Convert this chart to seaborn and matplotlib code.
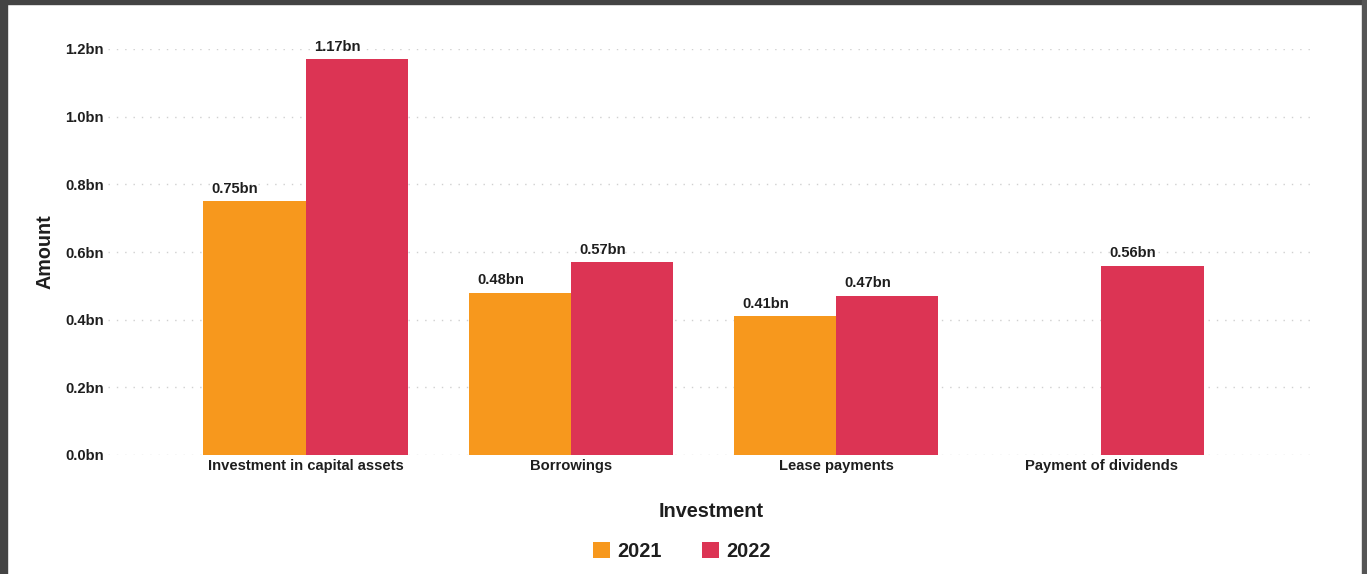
import matplotlib
matplotlib.use("Agg")
import matplotlib.pyplot as plt
from matplotlib.patches import Rectangle
import seaborn as sns
import pandas as pd

categories = ["Investment in capital assets", "Borrowings", "Lease payments", "Payment of dividends"]
years = ["2021", "2022"]
values_2021 = [0.75, 0.48, 0.41, None]
values_2022 = [1.17, 0.57, 0.47, 0.56]
y_ticks = [0.0, 0.2, 0.4, 0.6, 0.8, 1.0, 1.2]
colors = {"2021": "#F7981D", "2022": "#DC3454"}

rows = []
for cat, v in zip(categories, values_2021):
    if v is not None:
        rows.append({"Investment": cat, "Year": "2021", "Amount": v})
for cat, v in zip(categories, values_2022):
    if v is not None:
        rows.append({"Investment": cat, "Year": "2022", "Amount": v})
df = pd.DataFrame(rows)

sns.set_theme(style="white")
plt.rcParams["font.family"] = ["Liberation Sans", "DejaVu Sans"]

W, H = 1367, 574
fig = plt.figure(figsize=(W / 100, H / 100), dpi=100)
ax = fig.add_axes([108 / W, (H - 455) / H, (1315 - 108) / W, (455 - 49) / H])

sns.barplot(data=df, x="Investment", y="Amount", hue="Year", order=categories,
            hue_order=years, palette=colors, width=0.77, saturation=1,
            errorbar=None, linewidth=0, ax=ax, legend=True)

ax.set_xlim(-0.745, 3.805)
ax.set_ylim(0, 1.2)
ax.set_yticks(y_ticks)
ax.set_yticklabels([f"{t:.1f}bn" for t in y_ticks], fontsize=10.6, fontweight="bold", color="#1e1e1e")
ax.tick_params(axis="x", labelsize=10.6, colors="#1e1e1e", length=0, pad=3)
ax.tick_params(axis="y", length=0, pad=3)
for lbl in ax.get_xticklabels():
    lbl.set_fontweight("bold")

ax.yaxis.grid(True, linestyle=(0, (1, 5)), color="#d0d0d0", linewidth=1)
ax.set_axisbelow(True)
for s in ax.spines.values():
    s.set_visible(False)

ax.set_xlabel("Investment", fontsize=14.3, fontweight="bold", color="#1e1e1e", labelpad=21)
ax.set_ylabel("Amount", fontsize=14.2, fontweight="bold", color="#1e1e1e", labelpad=8)

# value labels sit at the left side of each bar top
for container in ax.containers:
    for patch in container:
        h = patch.get_height()
        if h != h or h == 0:
            continue
        ax.annotate(f"{h:.2f}bn", (patch.get_x(), h), xytext=(6, 4),
                    textcoords="offset points", ha="left", va="bottom",
                    fontsize=10.6, fontweight="bold", color="#1e1e1e",
                    annotation_clip=False)

leg = ax.legend(loc="center", bbox_to_anchor=((682 - 108) / (1315 - 108), -0.237), ncol=2,
                frameon=False, handlelength=0.85, handleheight=0.85, handletextpad=0.4,
                columnspacing=2.0, prop={"size": 14.3, "weight": "bold"})
for t in leg.get_texts():
    t.set_color("#1e1e1e")

# dark frame around the figure
frame = "#444444"
fig.patches.append(Rectangle((0, 0), 7 / W, 1, transform=fig.transFigure, color=frame, zorder=10))
fig.patches.append(Rectangle((0, 1 - 4 / H), 1, 4 / H, transform=fig.transFigure, color=frame, zorder=10))
fig.patches.append(Rectangle((1 - 5 / W, 0), 5 / W, 1, transform=fig.transFigure, color="#555555", zorder=10))

fig.savefig("out.png", dpi=100)
